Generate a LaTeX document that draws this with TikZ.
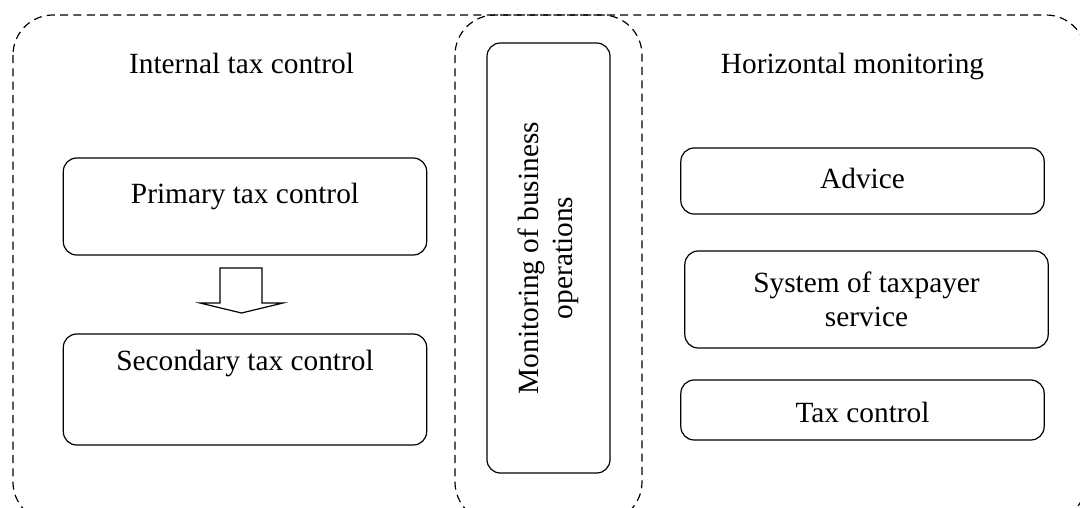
\documentclass[tikz,border=0pt]{standalone}
\usepackage{fontspec}
\setmainfont{Liberation Serif}
\tikzset{
  zone/.style={draw,dash pattern=on 6pt off 4pt,line width=0.9pt,rounded corners=30pt},
  box/.style={draw,line width=0.9pt,rounded corners=10pt,inner sep=0pt,align=center},
  wide/.style={box,minimum width=272.5pt}}
\begin{document}
\begin{tikzpicture}[x=0.75pt,y=-0.75pt,
      font=\fontsize{22}{25.5}\selectfont]
      \useasboundingbox[clip] (0,0) rectangle (1080,507);
      \draw[zone] (13,15) rectangle (1086,522);
      \draw[zone] (455,15) rectangle (642,522);
      \node[anchor=base] (internal) at (241.5,73) {Internal tax control};
      \node[anchor=base] (horizontal) at (852.5,73) {Horizontal monitoring};
      \node[wide,text height=33.75pt,text depth=39pt] (primary) at (245,206.5) {Primary tax control};
      \node[wide,text height=27pt,text depth=56.25pt] (secondary) at (245,389.5) {Secondary tax control};
      % hollow down arrow
      \draw[line width=0.9pt,line join=miter] (220,268) -- (262,268) -- (262,303) -- (283,303)
        -- (241.5,313) -- (200,303) -- (220,303) -- cycle;
      \node[box,rotate=90,minimum width=322.5pt,minimum height=92.25pt] (business) at (548.5,258) {Monitoring of business\\operations};
      \node[wide,text height=30pt,text depth=19.5pt] (advice) at (862.5,181) {Advice};
      \node[wide,minimum height=72.75pt] (service) at (866.5,299.5) {System of taxpayer\\service};
      \node[wide,text height=31.5pt,text depth=13.5pt] (taxcontrol) at (862.5,410) {Tax control};
     \end{tikzpicture}
\end{document}
